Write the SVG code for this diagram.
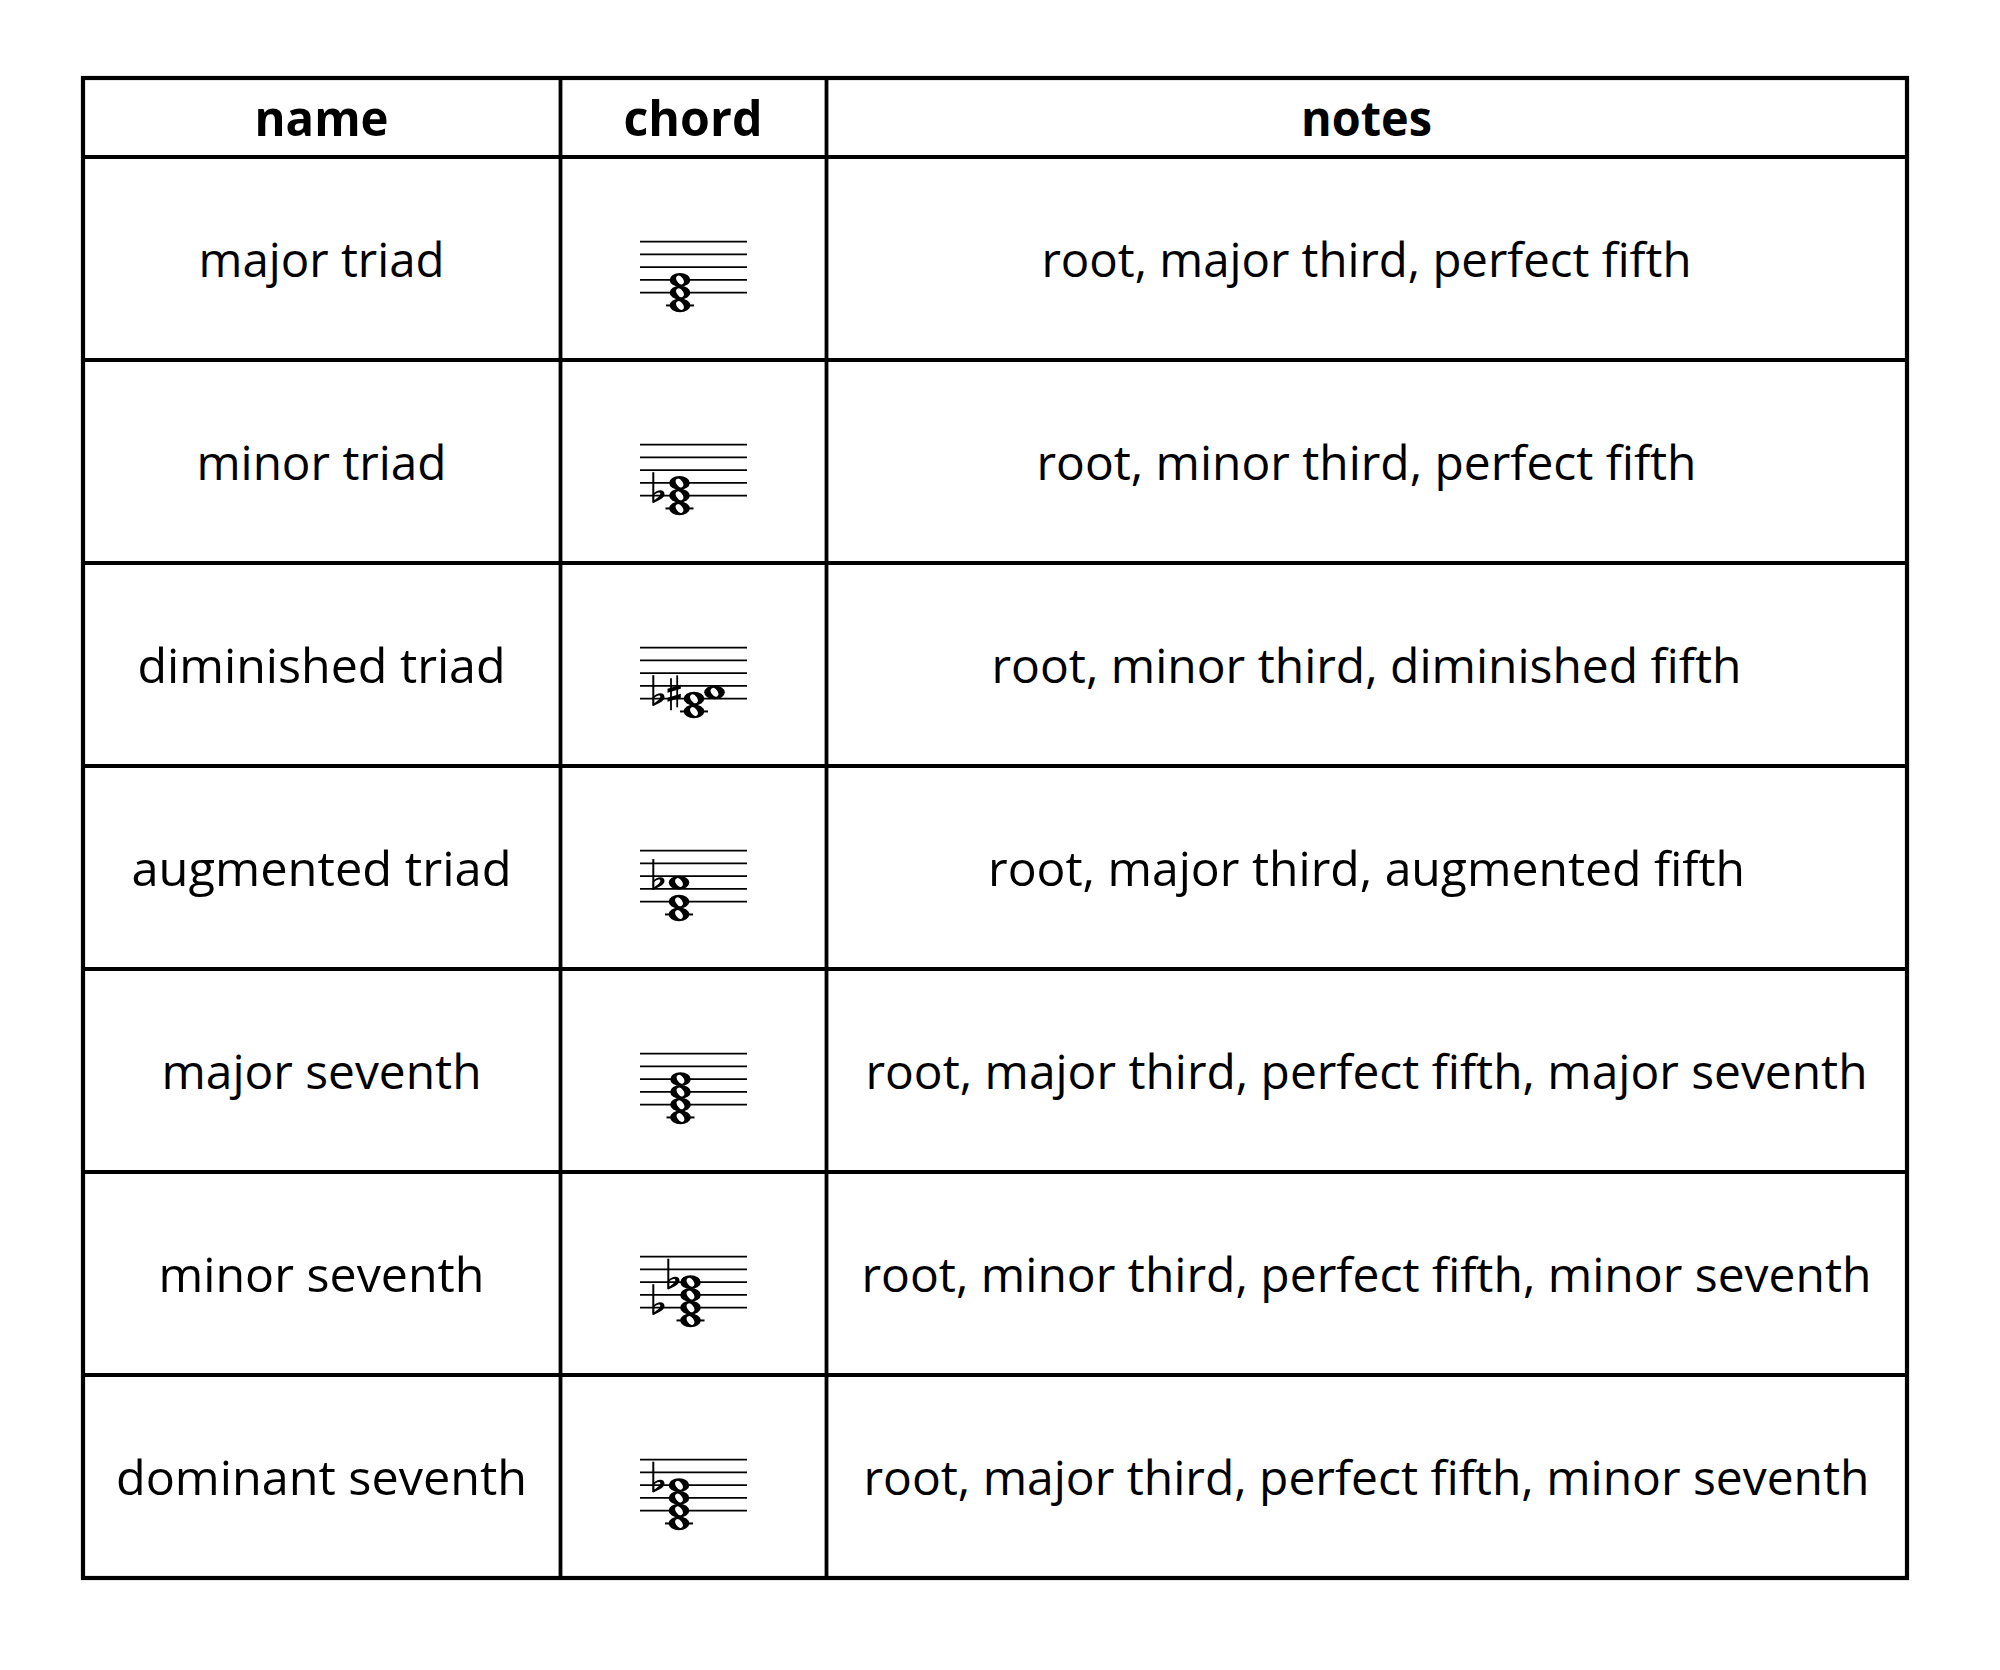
<svg xmlns="http://www.w3.org/2000/svg" xmlns:xlink="http://www.w3.org/1999/xlink" width="2000" height="1670" viewBox="0 0 2000 1670">
<style>
.t{font-family:"Open Sans","Noto Sans","Liberation Sans",sans-serif;font-size:48px;fill:#000;text-anchor:middle}
.h{font-family:"Open Sans","Noto Sans","Liberation Sans",sans-serif;font-size:49px;font-weight:bold;fill:#000;text-anchor:middle}
.grid{stroke:#000;stroke-width:3.8;fill:none}
.sl{stroke:#000;stroke-width:1.8}
.lg{stroke:#000;stroke-width:2}
</style>
<defs>
<g id="staff">
<line class="sl" x1="0" y1="0" x2="107" y2="0"/>
<line class="sl" x1="0" y1="12.75" x2="107" y2="12.75"/>
<line class="sl" x1="0" y1="25.5" x2="107" y2="25.5"/>
<line class="sl" x1="0" y1="38.25" x2="107" y2="38.25"/>
<line class="sl" x1="0" y1="51" x2="107" y2="51"/>
</g>
<g id="wn">
<ellipse rx="10.3" ry="6.9" fill="#000"/>
<ellipse rx="3.1" ry="4.8" transform="rotate(-35)" fill="#fff"/>
</g>
<g id="flat">
<path d="M0,-23.5 V6.8" stroke="#000" stroke-width="2"/>
<path d="M-0.5,-1.5 C3.5,-6.5 11.5,-7 11.2,-1.5 C11,2.5 5,5 -0.5,7.5 Z M0.8,4.4 C4,2.6 7.2,0 7,-2.2 C6.8,-4 3,-3.2 0.8,-0.6 Z" fill="#000" fill-rule="evenodd"/>
</g>
<g id="sharp">
<line x1="-3" y1="-14" x2="-3" y2="18" stroke="#000" stroke-width="1.8"/>
<line x1="3.2" y1="-17" x2="3.2" y2="15" stroke="#000" stroke-width="1.8"/>
<path d="M-6.5,-3.5 L6.8,-7.5 V-3.5 L-6.5,0.5 Z M-6.5,5.5 L6.8,1.5 V5.5 L-6.5,9.5 Z" fill="#000"/>
</g>
</defs>
<rect width="2000" height="1670" fill="#fff"/>
<g id="table-grid">
<rect x="83" y="78" width="1824" height="1500" fill="none" stroke="#000" stroke-width="4.2"/>
<line class="grid" x1="560.5" y1="78" x2="560.5" y2="1578"/>
<line class="grid" x1="826.5" y1="78" x2="826.5" y2="1578"/>
<line class="grid" x1="83" y1="157" x2="1907" y2="157"/>
<line class="grid" x1="83" y1="360" x2="1907" y2="360"/>
<line class="grid" x1="83" y1="563" x2="1907" y2="563"/>
<line class="grid" x1="83" y1="766" x2="1907" y2="766"/>
<line class="grid" x1="83" y1="969" x2="1907" y2="969"/>
<line class="grid" x1="83" y1="1172" x2="1907" y2="1172"/>
<line class="grid" x1="83" y1="1375" x2="1907" y2="1375"/>
</g>
<g id="header">
<text class="h" x="321.5" y="136" textLength="134" lengthAdjust="spacingAndGlyphs">name</text>
<text class="h" x="693" y="136" textLength="139" lengthAdjust="spacingAndGlyphs">chord</text>
<text class="h" x="1366.5" y="136" textLength="131" lengthAdjust="spacingAndGlyphs">notes</text>
</g>
<g id="row-major-triad">
<text class="t" x="321.5" y="277.3" textLength="246" lengthAdjust="spacingAndGlyphs">major triad</text>
<use xlink:href="#staff" x="640" y="241.7"/>
<line class="lg" x1="666" y1="305.45" x2="694" y2="305.45"/>
<use xlink:href="#wn" x="680" y="305.45"/>
<use xlink:href="#wn" x="680" y="292.7"/>
<use xlink:href="#wn" x="680" y="279.95"/>
<text class="t" x="1366.5" y="277.3" textLength="650" lengthAdjust="spacingAndGlyphs">root, major third, perfect fifth</text>
</g>
<g id="row-minor-triad">
<text class="t" x="321.5" y="480.3" textLength="250" lengthAdjust="spacingAndGlyphs">minor triad</text>
<use xlink:href="#staff" x="640" y="444.7"/>
<line class="lg" x1="665.5" y1="508.45" x2="693.5" y2="508.45"/>
<use xlink:href="#wn" x="679.5" y="508.45"/>
<use xlink:href="#wn" x="679.5" y="495.7"/>
<use xlink:href="#wn" x="679.5" y="482.95"/>
<use xlink:href="#flat" x="653.3" y="495.7"/>
<text class="t" x="1366.5" y="480.3" textLength="660" lengthAdjust="spacingAndGlyphs">root, minor third, perfect fifth</text>
</g>
<g id="row-diminished-triad">
<text class="t" x="321.5" y="683.3" textLength="368" lengthAdjust="spacingAndGlyphs">diminished triad</text>
<use xlink:href="#staff" x="640" y="647.7"/>
<line class="lg" x1="680" y1="711.45" x2="708" y2="711.45"/>
<use xlink:href="#wn" x="694" y="711.45"/>
<use xlink:href="#wn" x="694" y="698.7"/>
<use xlink:href="#wn" x="714.5" y="692.33"/>
<use xlink:href="#flat" x="653.3" y="698.7"/>
<use xlink:href="#sharp" x="674" y="692.33"/>
<text class="t" x="1366.5" y="683.3" textLength="750" lengthAdjust="spacingAndGlyphs">root, minor third, diminished fifth</text>
</g>
<g id="row-augmented-triad">
<text class="t" x="321.5" y="886.3" textLength="380" lengthAdjust="spacingAndGlyphs">augmented triad</text>
<use xlink:href="#staff" x="640" y="850.7"/>
<line class="lg" x1="665" y1="914.45" x2="693" y2="914.45"/>
<use xlink:href="#wn" x="679" y="914.45"/>
<use xlink:href="#wn" x="679" y="901.7"/>
<use xlink:href="#wn" x="679" y="882.58"/>
<use xlink:href="#flat" x="653.3" y="882.58"/>
<text class="t" x="1366.5" y="886.3" textLength="757" lengthAdjust="spacingAndGlyphs">root, major third, augmented fifth</text>
</g>
<g id="row-major-seventh">
<text class="t" x="321.5" y="1089.3" textLength="320" lengthAdjust="spacingAndGlyphs">major seventh</text>
<use xlink:href="#staff" x="640" y="1053.7"/>
<line class="lg" x1="666.5" y1="1117.45" x2="694.5" y2="1117.45"/>
<use xlink:href="#wn" x="680.5" y="1117.45"/>
<use xlink:href="#wn" x="680.5" y="1104.7"/>
<use xlink:href="#wn" x="680.5" y="1091.95"/>
<use xlink:href="#wn" x="680.5" y="1079.2"/>
<text class="t" x="1366.5" y="1089.3" textLength="1002" lengthAdjust="spacingAndGlyphs">root, major third, perfect fifth, major seventh</text>
</g>
<g id="row-minor-seventh">
<text class="t" x="321.5" y="1292.3" textLength="326" lengthAdjust="spacingAndGlyphs">minor seventh</text>
<use xlink:href="#staff" x="640" y="1256.7"/>
<line class="lg" x1="676.5" y1="1320.45" x2="704.5" y2="1320.45"/>
<use xlink:href="#wn" x="690.5" y="1320.45"/>
<use xlink:href="#wn" x="690.5" y="1307.7"/>
<use xlink:href="#wn" x="690.5" y="1294.95"/>
<use xlink:href="#wn" x="690.5" y="1282.2"/>
<use xlink:href="#flat" x="653.3" y="1307.7"/>
<use xlink:href="#flat" x="668.3" y="1282.2"/>
<text class="t" x="1366.5" y="1292.3" textLength="1010" lengthAdjust="spacingAndGlyphs">root, minor third, perfect fifth, minor seventh</text>
</g>
<g id="row-dominant-seventh">
<text class="t" x="321.5" y="1495.3" textLength="411" lengthAdjust="spacingAndGlyphs">dominant seventh</text>
<use xlink:href="#staff" x="640" y="1459.7"/>
<line class="lg" x1="665" y1="1523.45" x2="693" y2="1523.45"/>
<use xlink:href="#wn" x="679" y="1523.45"/>
<use xlink:href="#wn" x="679" y="1510.7"/>
<use xlink:href="#wn" x="679" y="1497.95"/>
<use xlink:href="#wn" x="679" y="1485.2"/>
<use xlink:href="#flat" x="653.3" y="1485.2"/>
<text class="t" x="1366.5" y="1495.3" textLength="1006" lengthAdjust="spacingAndGlyphs">root, major third, perfect fifth, minor seventh</text>
</g>
</svg>
